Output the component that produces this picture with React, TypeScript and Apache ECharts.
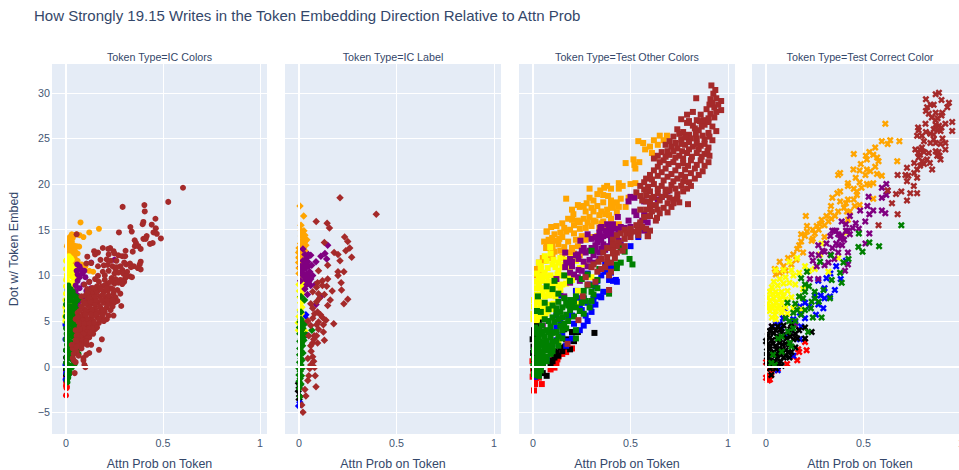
import React, { useEffect, useRef } from "react";
import * as echarts from "echarts";

type P = [number, number];

const chartTitle = "How Strongly 19.15 Writes in the Token Embedding Direction Relative to Attn Prob";
const panelNames = ["Token Type=IC Colors", "Token Type=IC Label", "Token Type=Test Other Colors", "Token Type=Test Correct Color"];
const xTicks = [0, 0.5, 1];
const yTicks = [-5, 0, 5, 10, 15, 20, 25, 30];

// --- IC Colors ---
const a_red: P[] = [[0,-3.15],[.003,-2.35],[.005,-2.2],[0,-2.1],[.002,-1.85],[0,-1.6],[.003,-1.4],[0,-1.1],[.001,-.8],[0,-.4],[.001,0]];
const a_black: P[] = [[.015,-.8],[.012,-1],[.008,-1.2],[0,-.9],[0,-.3],[0,.4],[0,1],[0,1.8]];
const a_blue: P[] = [[-.002,-1.4],[0,-.7],[-.003,.2],[-.003,3],[-.003,4.6],[.075,5.4]];
const a_orange: P[] = [[.075,15.8],[.17,15.1],[.12,14.7],[.055,14.5],[.07,14.4],[.09,14.2],[.03,14.5],[.02,14.2],[.035,14.1],[.015,13.8],[.03,13.7],[.01,13.5],[.025,13.4],[.04,13.3],[.055,13.2],[.068,13.15],[.015,13],[.03,12.9],[.045,12.8],[.02,12.6],[.035,12.4],[.05,12.5],[.015,12.2],[.03,12],[.045,11.9],[.06,11.6],[.04,11.3],[.08,11.2],[.1,11],[.09,10.8],[.14,10.4],[.12,10.5],[.055,10.9],[.07,10.3],[.05,10],[.04,14.4],[.005,13.2],[.06,12.4],[.04,12.2],[.025,11.5],[.05,11.6],[.075,11],[.06,10.7]];
const a_yellow: P[] = [[.015,12.1],[.025,11.9],[.005,11.7],[0,11.6],[.02,11.4],[.01,11.1],[.03,11],[.04,10.9],[0,10.7],[.015,10.6],[.03,10.4],[.045,10.3],[.005,10.1],[.02,10],[.035,9.8],[.05,9.6],[0,9.5],[.012,9.3],[.03,9.2],[.04,9],[0,8.8],[.015,8.6],[.028,8.5],[.045,8.3],[0,8],[.01,7.8],[.035,7.6],[-.003,7.3],[.01,7],[.04,7],[-.003,6.5],[0,6],[-.005,5.5],[-.003,5],[.03,11.7],[.005,9.8],[.045,8.8],[.01,6.4],[.005,5.9]];
const a_purple: P[] = [[.25,11.7],[.13,11.4],[.058,11.2],[.07,11],[.055,10.5],[.08,10.6],[.095,10.5],[.06,10.1],[.085,10.2],[.07,9.8],[.1,9.8],[.06,9.4],[.12,9.3],[.09,9],[.05,8.9],[.07,8.6],[.13,8.6],[.105,8.3],[.05,8.3],[.125,8],[.04,7.9],[.06,7.8],[.085,7.6],[.065,7.1],[.063,6.5],[.01,4.4],[.008,3.4]];
const a_green: P[] = [[.012,8.9],[.025,8.5],[.008,8.4],[.02,8.1],[.035,8.2],[.01,7.8],[.025,7.6],[.05,7.7],[.005,7.3],[.02,7.2],[.035,7.2],[.048,7],[.06,7.3],[.075,7.6],[0,6.8],[.015,6.6],[.03,6.6],[.05,6.4],[.06,6.2],[.005,6.1],[.02,5.9],[.04,5.9],[.058,5.7],[0,5.5],[.012,5.3],[.03,5.3],[.045,5.2],[.005,4.8],[.022,4.7],[.035,4.5],[0,4.2],[.012,4],[.028,4],[.042,3.8],[.003,3.6],[.02,3.4],[.035,3.3],[0,3],[.012,2.9],[.028,2.7],[.06,1.9],[.065,1.4],[.005,2.4],[.02,2.2],[.035,2],[.048,1.9],[0,1.8],[.012,1.5],[.028,1.4],[.003,1],[.018,.9],[.035,.7],[0,.4],[.012,.2],[.025,.1],[.003,-.2],[.015,-.4],[.03,-.1],[.005,-.8],[.012,-1.2],[.005,-1.5],[.008,-1.7],[.01,5.8],[.025,5.6],[.04,5.5],[.05,4.8],[.055,4.3],[.05,3.3],[.045,2.6],[.04,1.7],[.015,6.2],[.028,6.1],[.045,6.7],[.008,3.3],[.015,2.5],[.008,1.2],[.045,.3],[.02,-.7],[.03,8],[.04,7.8],[.01,4.4],[.025,5],[.035,3.7],[.03,2.4],[.02,1.8]];
const a_brown: P[] = [[.603,19.6],[.527,18.05],[.404,17.7],[.292,17.5],[.406,17],[.461,16.2],[.399,15.85],[.395,15.6],[.442,15.55],[.463,15.15],[.332,15.3],[.339,14.8],[.273,14.7],[.451,14.7],[.468,14.55],[.489,14.05],[.416,14.3],[.399,14],[.411,14],[.354,13.85],[.361,13.55],[.447,13.55],[.433,13.45],[.355,13.2],[.373,13.2],[.385,12.9],[.344,12.6],[.307,12.7],[.055,14.5],[.19,13],[.218,12.9],[.228,13],[.145,12.65],[.165,12.5],[.245,12.65],[.25,12.4],[.15,12.3],[.22,12.3],[.27,12.2],[.29,12.1],[.305,12.1],[.11,12.05],[.178,11.7],[.21,11.75],[.26,11.6],[.105,11.3],[.13,11.35],[.165,11],[.195,11.1],[.215,11.15],[.24,11],[.28,11],[.31,11.2],[.33,11.3],[.35,11],[.385,11.5],[.38,11.2],[.37,10.8],[.385,10.65],[.335,10.9],[.29,10.6],[.255,10.7],[.27,10.3],[.295,10.2],[.315,10.4],[.2,10],[.165,9.95],[.235,9.7],[.255,9.6],[.33,9.9],[.34,9.8],[.305,9.7],[.28,9.5],[.3,9.3],[.15,9.6],[.12,9.3],[.095,9],[.215,9.1],[.25,9.1],[.29,9.05],[.185,8.8],[.2,8.9],[.16,8.8],[.135,8.6],[.11,8.5],[.23,8.6],[.265,8.4],[.28,8],[.17,8.4],[.195,8.2],[.215,8.3],[.245,8],[.15,8],[.125,7.9],[.1,7.8],[.08,7.7],[.255,7.6],[.23,7.5],[.205,7.6],[.175,7.7],[.14,7.4],[.11,7.3],[.09,7.1],[.265,7.2],[.25,7.05],[.225,7],[.195,7],[.165,7],[.135,6.9],[.115,6.7],[.285,6.65],[.24,6.6],[.21,6.5],[.18,6.4],[.15,6.4],[.125,6.3],[.095,6.3],[.08,6.6],[.2,6],[.175,5.9],[.145,5.9],[.12,5.9],[.09,5.8],[.245,5.6],[.22,5.6],[.21,5.2],[.185,5.4],[.16,5.4],[.13,5.4],[.1,5.4],[.075,5.5],[.05,5.2],[.14,5],[.115,4.9],[.09,4.9],[.065,4.9],[.17,4.8],[.155,4.5],[.13,4.5],[.1,4.4],[.07,4.4],[.15,4.1],[.105,4],[.08,3.9],[.06,3.9],[.14,3.6],[.105,3.5],[.07,3.4],[.185,3],[.12,3.2],[.1,3.2],[.065,3],[.11,2.4],[.13,2.4],[.09,2.5],[.065,2.5],[.04,2.4],[.17,1.85],[.12,1.5],[.105,1.3],[.08,2],[.05,2],[.035,2],[.03,2.4],[.055,1.6],[.04,1.4],[.065,1.2],[.09,.95],[.035,.95],[.04,.7],[.05,.5],[.095,.2],[.09,.7],[.1,-.05],[.045,-.7],[.06,5.9],[.07,6.1],[.105,6.1],[.135,6.2],[.16,6],[.19,5.7],[.23,6.2],[.1,5.7],[.13,5.7],[.155,5.7],[.17,5.2],[.195,5],[.11,5.2],[.085,5.1],[.06,5.4],[.075,4.7],[.095,4.7],[.12,4.7],[.145,4.8],[.16,4.3],[.135,4.2],[.115,4.2],[.09,4.2],[.07,4.1],[.05,4],[.11,3.8],[.125,3.7],[.09,3.6],[.075,3.2],[.055,3.4],[.05,2.9],[.085,2.9],[.105,2.8],[.075,2.4],[.055,2.2],[.12,6.6],[.15,6.9],[.175,6.6],[.19,6.2],[.215,6.8],[.1,6.9],[.125,7.1],[.155,7.3],[.185,7.3],[.215,7.3],[.24,7.3],[.12,7.6],[.15,7.7],[.19,7.9],[.22,7.8],[.135,8.2],[.16,8.2],[.18,8.5],[.21,8.6],[.24,8.5],[.11,8.1],[.145,8.6],[.2,9.5],[.17,9.3],[.23,9.3],[.27,9.2],[.25,10.2],[.31,9.9],[.22,10.5],[.19,10.4],[.26,10.9],[.3,11.4],[.23,11.6]];

// --- IC Label ---
const b_black: P[] = [[-.003,-1.8],[0,-2.3],[-.004,-2.7],[.002,-3.2],[0,-3.6],[.005,-2]];
const b_blue: P[] = [[.035,5.7],[.03,5.4],[-.002,-4.3],[.004,-3.9],[.04,3.5]];
const b_orange: P[] = [[.005,17.6],[.024,16.5],[.01,15.5],[.012,14.9],[.025,14.9],[.015,14.6],[.012,14.3],[.025,14.1],[.015,13.8],[.03,13.7],[.035,13.3],[.008,13.5],[.02,13.3],[0,13],[.015,12.9],[-.002,12.5],[.012,12.4],[0,12],[.01,11.9],[-.002,11.4],[.01,11.3],[0,10.8],[.012,10.7],[0,10.2],[.01,10],[.03,14.4],[0,11.9],[.02,13],[.005,12.7],[.03,12.7],[.04,13.9]];
const b_yellow: P[] = [[.01,9.4],[.02,9.2],[0,9],[.012,8.8],[.025,8.5],[.002,8.3],[.015,8],[.005,7.6],[.02,7.2],[.008,7],[.015,6.5],[.005,6.2],[.012,5.8],[0,5.5],[.018,5.1],[-.004,4.8],[.015,4.5],[-.003,4],[.03,3.9],[.012,3.8]];
const b_purple: P[] = [[.02,12.9],[.147,13.3],[.133,12.4],[.112,12.1],[.142,11.8],[.087,11.5],[.048,12.3],[.03,12.3],[.04,11.9],[.02,11.6],[.045,11.5],[.03,11.2],[.05,11],[.035,10.8],[.02,10.6],[.055,10.4],[.04,10.2],[.02,10],[.03,9.8],[.05,9.9],[.06,9.6],[.035,9.5],[.05,9.3],[.083,9],[.06,8.9],[.112,7.7],[.087,6.8],[.043,7.9],[.01,11],[.015,10.3],[.065,11.1],[.07,10],[.04,9],[.03,8.5],[.06,12.2],[.008,9.4]];
const b_green: P[] = [[.01,7.7],[.028,7.3],[.01,6],[.01,5.2],[.005,4.9],[.012,4.6],[.066,4],[.035,3.5],[.002,4.3],[.012,4],[.004,3.6],[.012,3.1],[.004,2.8],[.012,2.5],[.004,2],[.012,1.7],[.003,1.3],[.01,.9],[.003,.5],[.01,.2],[0,-.2],[.006,-.5],[0,-.9],[.006,-1.3],[0,-1.6],[.005,-2],[.002,-2.4],[.006,-3.3],[.015,4.9],[.02,4.2],[.02,3.2],[.018,2.3],[.02,1.5],[.015,.7],[.015,-.2],[.012,-1],[.01,-1.9],[.015,3.7],[.03,4.7],[.025,2.9]];
const b_brown: P[] = [[.21,18.5],[.396,16.7],[.088,15.9],[.144,15.7],[.156,15.2],[.234,14.2],[.25,13.7],[.26,13],[.24,12.7],[.13,13.6],[.18,12.5],[.2,12.3],[.21,11.6],[.27,12],[.147,11.1],[.23,10.4],[.2,10.4],[.2,10],[.1,10.5],[.147,9.6],[.12,9.4],[.095,9.2],[.216,9.2],[.142,8.8],[.218,8.4],[.07,8.2],[.25,7.4],[.23,6.9],[.16,7.3],[.147,6.7],[.13,7.9],[.105,7.5],[.06,6.9],[.07,6.4],[.095,6],[.11,5.7],[.138,5.1],[.178,4.7],[.07,5.3],[.045,5],[.09,4.6],[.125,4.6],[.06,4.5],[.125,3.8],[.13,2.9],[.095,2.6],[.07,2.6],[.078,3.4],[.05,3.4],[.062,1.7],[.07,1.1],[.045,.9],[.055,-.2],[.083,-1],[.087,-2.2],[.045,-1.5],[.035,-3.2],[.014,-4.2],[.02,-5],[.03,-2.5],[.06,.2],[.09,7.1],[.12,5.4],[.1,4.1],[.08,5.8],[.1,4.9],[.075,3],[.09,3.4],[.06,2.3],[.075,.6],[.08,-.1],[.05,-1],[.1,8],[.09,8.7],[.17,8.3],[.12,8.9]];

// --- Test Other Colors ---
const c_red: P[] = [[.005,-2.6],[.045,-1.9],[.01,-1.5],[-.002,-1.1],[.02,-.9],[.002,-.5],[.125,.8],[.12,.4],[.11,-.1],[.2,2],[.09,-.3],[.13,1.1],[.005,0],[-.003,.6],[.15,1.4],[.17,1.6],[.015,-1.2],[0,-.2],[.03,-1.2],[.1,.2],[.105,.7],[.01,-1.9]];
const c_black: P[] = [[.315,3.7],[.23,3.8],[.19,1.9],[.14,2.1],[.17,3],[.07,-1],[.01,4.6],[.2,3.8],[.21,2.8],[.165,2.2],[.13,1.2],[.11,1.7],[.1,.6],[.005,4],[.015,3.5],[-.002,3],[.002,2.2],[0,1.5],[.02,-.3],[.05,.2],[.09,.2],[.05,-.7],[.16,4.1],[.005,3.6],[.01,2.7],[.005,.8],[.01,.2],[.015,-.6],[.005,-.4],[.08,.7],[.11,1],[.12,1.5],[.15,1.7],[.03,4.3],[.03,4.9]];
const c_blue: P[] = [[.425,9.5],[.39,9.5],[.37,11.2],[.38,10.7],[.335,7.7],[.31,7.4],[.25,6.2],[.27,5.6],[.18,5.5],[.14,5],[.2,6.7],[.33,9.4],[.29,9],[.36,8.2],[.295,6.5],[.15,3.5],[.12,4.3],[.21,4.7],[.24,4],[.01,-1.1],[.03,-.9],[.07,.9],[.1,2.5],[.28,10.2],[.35,10],[.54,14.2],[.5,13.2],[.24,7.5],[.17,2.3],[.02,-.5],[.18,7],[.2,5.6],[.24,6.8],[.12,5.6],[.09,3.8],[.26,7.4],[.28,7],[.12,2.9],[.22,8.3],[.32,8.8],[.14,7.8],[.43,9.3],[.41,9.4],[.4,10.3],[.37,10.4],[.35,7.6],[.32,6.8],[.3,6],[.28,5],[.26,4.5],[.2,3.1],[.18,2.8],[.4,11]];
const c_orange: P[] = [[.65,25.3],[.687,25.3],[.67,24.8],[.62,24.8],[.54,24.7],[.565,24.5],[.575,23.8],[.64,24.3],[.61,23.4],[.625,23],[.6,24.1],[.475,22.3],[.515,22.7],[.545,22.4],[.52,22.1],[.525,21.7],[.44,20.1],[.44,19.5],[.5,20],[.525,20.1],[.38,19.8],[.29,19.5],[.345,19.3],[.365,19.6],[.385,18.7],[.17,18.4],[.29,18.5],[.31,18.2],[.275,17.9],[.49,18.5],[.45,18.4],[.475,17.5],[.24,17.5],[.27,17],[.207,16.7],[.18,16.2],[.15,15.7],[.12,15.4],[.093,15.3],[.07,14.8],[.057,13.7],[.067,13],[.098,14.1],[.135,14],[.098,13.5],[.19,15],[.21,15.5],[.24,15.8],[.38,15.5],[.35,17],[.38,17.2],[.41,17.4],[.33,17.6],[.36,18],[.4,18.2],[.31,17],[.26,16.2],[.29,16.4],[.32,15.9],[.35,15.7],[.4,16.2],[.43,16.9],[.44,15.6],[.415,15.4],[.39,14.9],[.34,15.2],[.3,15.4],[.27,15.2],[.24,15.1],[.21,14.6],[.17,14.8],[.15,14.2],[.18,13.7],[.22,13.9],[.25,14.3],[.3,14.2],[.2,13],[.16,13.1],[.13,13.4],[.11,12.6],[.09,11.9],[.02,10],[.015,10.7],[.03,11.4],[.06,11.6],[.1,12.2],[.15,12],[.21,12.4],[.24,12.2],[.07,14.8],[.08,13.9],[.46,19.8],[.4,19.5],[.36,18.8],[.33,18.9],[.23,17.7],[.2,17.2],[.26,17.6],[.3,17.4],[.43,18],[.44,17.5],[.4,17.7],[.34,16.6],[.37,16.7],[.39,16.6],[.31,16],[.28,15.8],[.23,16],[.2,16.1],[.16,15.2],[.14,14.7],[.11,14.5],[.12,13.8],[.07,13.5],[.1,12.9],[.14,12.7],[.18,12.5],[.23,13.2],[.27,13.9],[.33,14.3],[.03,10.5],[.05,11.9],[.36,15.9]];
const c_yellow: P[] = [[.088,13.1],[.09,12.4],[.03,11.4],[.07,11.6],[.105,11.7],[.14,11.9],[.17,11.7],[.2,11.9],[.27,11.2],[.22,11.6],[.24,10.8],[.19,10.5],[.15,10.9],[.115,10.9],[.075,10.8],[.04,10.7],[.02,10.2],[.05,10],[.09,10],[.125,10.1],[.17,9.9],[.02,9.3],[.05,9.4],[.08,9.3],[.115,9.3],[.15,9],[.015,8.6],[.04,8.6],[.07,8.5],[.105,8.6],[.2,9.5],[.23,8.3],[.01,7.9],[.035,7.9],[.06,7.7],[.085,7.8],[.115,7.7],[.005,7.3],[.03,7.1],[.055,7],[.08,6.8],[.105,6.9],[.005,6.6],[.03,6.3],[.055,6.2],[.075,6.1],[.1,6.3],[.002,5.8],[.02,5.5],[.05,5.5],[.002,5.2],[.02,5.1],[.13,2.7],[.13,10.5],[.3,9.8],[.22,6.9],[.06,12.1],[.04,11],[.1,11.2],[.13,11.4],[.16,11.2],[.19,11.2],[.06,10.3],[.03,9.8],[.07,9.9],[.11,9.7],[.15,10],[.185,9.7],[.07,9.1],[.03,9],[.1,9],[.13,8.9],[.05,8.1],[.02,7.6],[.08,8.2],[.1,8],[.04,6.7],[.015,7],[.065,6.7],[.01,6],[.04,5.8],[.065,5.8],[.17,9.1],[.14,8.4]];
const c_purple: P[] = [[.5,18.6],[.57,18.1],[.64,18.3],[.49,18.1],[.52,18.5],[.37,14.9],[.34,14.7],[.4,14.7],[.36,14.3],[.39,15.3],[.43,14.4],[.41,15.6],[.345,15.2],[.435,16.4],[.28,14.5],[.243,13.8],[.165,12.5],[.33,13.6],[.36,13.4],[.39,13.2],[.3,13],[.27,12.5],[.34,12.5],[.31,12.2],[.47,15.2],[.5,15.3],[.49,16],[.53,16.6],[.57,16.7],[.588,15.8],[.57,14.9],[.55,15.6],[.45,15.3],[.25,12.7],[.233,11.8],[.2,11.5],[.165,10.9],[.233,10.6],[.28,11],[.31,11.4],[.34,11.8],[.21,10.1],[.19,9.2],[.24,9.4],[.12,9.6],[.16,7.7],[.05,4.5],[.2,11],[.22,12.2],[.27,10],[.4,13.7],[.44,13.8],[.26,11.5],[.66,18.6],[.69,19.2],[.56,16],[.52,17],[.45,13.4],[.35,15.3],[.38,15.6],[.42,15.1],[.32,14.2],[.35,13.9],[.38,14.4],[.3,14],[.32,13.3],[.35,12.9],[.29,12.7],[.26,13],[.23,12.3],[.19,11.8],[.29,11.7],[.32,12.7],[.37,12.8],[.4,14.2],[.44,15],[.34,14.2],[.19,10.3],[.23,9.8],[.25,10.5],[.17,11.4]];
const c_green: P[] = [[.51,11.2],[.495,11.8],[.45,13],[.47,12.6],[.45,11.4],[.43,11.2],[.43,10.8],[.54,15.1],[.3,12.7],[.39,8],[.26,5.8],[.29,6.5],[.22,4],[.22,3.1],[.11,9.4],[.025,7.7],[.02,6.1],[.3,8.9],[.33,9.5],[.34,10.7],[.28,10.1],[.25,9.6],[.19,9.4],[.16,10],[.07,8.8],[.1,8.5],[.13,8],[.16,7.5],[.19,7.3],[.22,7.7],[.26,8.3],[.31,7.9],[.33,8.6],[.3,7.2],[.25,7],[.22,6.5],[.19,6.2],[.15,6.5],[.1,6.7],[.08,6.3],[.04,6],[.06,7],[.12,5.8],[.15,5.4],[.18,5],[.21,5.5],[.11,4.9],[.14,4.5],[.17,4.2],[.08,5],[.09,4.4],[.12,3.8],[.15,3.1],[.07,4],[.045,4.5],[.06,3.3],[.09,3.2],[.12,2.8],[.03,3.2],[.05,2.7],[.08,2.3],[.1,2.1],[.01,2.8],[.03,2.1],[.06,1.8],[.09,1.4],[.005,1.8],[.025,1.2],[.05,1],[.07,1.1],[.005,.9],[.025,.4],[.05,.3],[.002,.1],[.02,-.3],[.04,-.4],[.005,-.8],[.03,-1],[.01,4.3],[.03,4.1],[.05,3.8],[.08,3.8],[.1,3.7],[.13,3.3],[.15,4],[.16,4.7],[.13,5.2],[.1,5.4],[.06,5.2],[.04,3.6],[.02,3.7],[.07,2.8],[.1,2.7],[.13,2.3],[.02,2.5],[.04,2.4],[.06,2.3],[.08,1.8],[.1,1.7],[.01,2.2],[.015,1.6],[.035,1.6],[.05,1.5],[.07,.6],[.035,.8],[.015,.6],[.04,0],[.06,.7],[.01,-.4],[.03,-.6],[.015,-.9],[.02,3],[.12,6.4],[.14,6],[.17,5.7],[.2,6.8],[.24,6.1],[.27,7.2],[.21,7.1],[.18,6.7],[.17,6.9],[.13,7.1],[.26,7.6],[.28,8.9],[.3,8.2]];
const c_brown: P[] = [[.915,30.8],[.935,30.3],[.925,29.9],[.94,29.4],[.965,29.1],[.837,29.4],[.905,28.7],[.93,28.4],[.965,28.1],[.94,27.9],[.93,27.3],[.79,27.6],[.82,27.9],[.86,27.6],[.9,27.2],[.84,27],[.76,27.1],[.79,26.7],[.88,26.5],[.92,26.3],[.82,26.4],[.74,26],[.77,25.7],[.85,25.9],[.9,25.6],[.94,25.8],[.8,25.4],[.72,25.2],[.76,24.9],[.84,25],[.88,24.9],[.92,24.8],[.68,24.3],[.71,24.1],[.74,23.9],[.78,24.3],[.82,24.1],[.86,24.2],[.9,24],[.66,23.5],[.7,23.2],[.75,23.1],[.79,23.4],[.84,23.4],[.88,23.3],[.62,22.8],[.67,22.6],[.72,22.4],[.77,22.3],[.81,22.6],[.86,22.6],[.9,22.4],[.64,21.9],[.68,21.7],[.73,21.5],[.78,21.6],[.83,21.7],[.87,21.4],[.6,21],[.64,20.9],[.69,20.8],[.74,20.6],[.78,20.8],[.83,20.6],[.57,20.2],[.62,20],[.66,19.8],[.71,19.9],[.76,19.8],[.81,19.8],[.57,19.4],[.6,19.2],[.64,19],[.7,19.3],[.74,18.9],[.77,19.2],[.55,18.7],[.62,18.6],[.65,18.2],[.72,18.3],[.68,18.8],[.795,17.8],[.75,18],[.71,17.5],[.67,17.4],[.64,17.2],[.6,17.6],[.58,18.1],[.636,16.3],[.6,16.5],[.54,14.4],[.588,14.3],[.6,14.9],[.45,14.6],[.43,14.4],[.41,13.9],[.41,12.9],[.336,11.5],[.4,11.4],[.39,8.4],[.233,5.1],[.255,7.7],[.177,2.5],[.28,9],[.32,9.3],[.39,10],[.4,10.4],[.38,12],[.35,11.8],[.3,10.9],[.54,15.2],[.59,14.3],[.69,16.9],[.63,16],[.55,15.8],[.5,15.1],[.52,14.8],[.47,15],[.5,14.2],[.47,14],[.44,13.6],[.46,12.7],[.43,12.5],[.38,13],[.36,12.5],[.42,11.9],[.35,10.7],[.31,11.2],[.27,9.8],[.91,29.3],[.95,28.7],[.92,28.9],[.89,28.2],[.91,27.7],[.875,27],[.855,26.9],[.8,26.9],[.83,26.1],[.865,26.3],[.9,26.8],[.905,25.2],[.87,25.3],[.835,25.5],[.81,25],[.78,25.1],[.75,25.5],[.7,24.7],[.73,24.5],[.76,24.4],[.8,24.6],[.84,24.4],[.88,24.4],[.69,23.6],[.72,23.6],[.765,23.6],[.8,23.8],[.85,23.8],[.895,23.6],[.64,23.1],[.68,23],[.73,22.9],[.77,22.8],[.815,23],[.865,23],[.905,23.1],[.65,22.4],[.695,22.2],[.745,22],[.795,22],[.84,22.1],[.88,22],[.62,21.5],[.66,21.3],[.71,21.1],[.76,21],[.81,21.2],[.85,21],[.58,20.6],[.61,20.5],[.67,20.4],[.72,20.3],[.77,20.3],[.8,20.2],[.55,19.8],[.59,19.7],[.64,19.5],[.68,19.4],[.73,19.5],[.79,19.5],[.53,19.1],[.58,18.8],[.61,18.5],[.66,18.6],[.7,18.5],[.74,18.4],[.56,18.2],[.6,18],[.63,17.7],[.69,17.9],[.72,17.9],[.58,17.2],[.61,17],[.65,16.8],[.55,17.2],[.57,16.4],[.53,15.5],[.56,15.3],[.58,15.1],[.48,14.6],[.5,14.7],[.43,13.2],[.41,12.4],[.38,11.4],[.37,10.9],[.33,10.4],[.41,13.4],[.47,13.2],[.54,14.9]];

// --- Test Correct Color ---
const d_red: P[] = [[.01,-1.5],[0,-1.2],[.02,-1.4],[.027,-.7],[.045,-.4],[.108,.3],[.16,.7],[.208,1.8],[.17,1.6],[.165,1.9],[.2,2.7],[.14,1.1],[0,.5],[.02,-.1],[.06,-.2],[.015,-1]];
const d_blue: P[] = [[.36,11],[.383,9.6],[.268,9.4],[.3,8.6],[.353,8.4],[.3,7.5],[.328,7.7],[.294,6.4],[.256,5.7],[.174,6.6],[.174,5.9],[.268,6.8],[.096,6.4],[.087,5.3],[.174,3],[.06,-.4],[.14,1.2],[.41,11.6],[.31,9.7],[.2,7],[.14,5.2],[.2,5.3],[.07,4.7],[.33,10.2],[.1,3.4],[.15,4.8],[.18,4.4],[.08,4.2],[.05,4.7],[.13,4],[.25,7.8],[.28,7.8],[.22,6.6]];
const d_orange: P[] = [[.612,26.6],[.684,24.7],[.637,24.8],[.624,24.4],[.594,24.7],[.56,24],[.53,23.5],[.55,23.2],[.512,23.1],[.517,22.7],[.577,22.5],[.57,22.9],[.673,22.5],[.45,23.3],[.486,22.2],[.37,21],[.38,21.2],[.448,21.6],[.48,21.5],[.517,21.6],[.56,21.9],[.535,21.4],[.569,21.1],[.594,20.9],[.51,21],[.46,20.7],[.48,20.2],[.517,20],[.55,20.1],[.42,20.1],[.42,19.8],[.466,19.2],[.38,19.2],[.366,19],[.466,18.8],[.45,18.3],[.42,18.3],[.38,18.1],[.41,17.9],[.55,18.4],[.48,17.7],[.455,17.6],[.333,17.6],[.37,17],[.415,17],[.354,16.5],[.204,16.5],[.31,16.5],[.285,16.1],[.335,16.2],[.42,16.1],[.276,15.6],[.32,15.9],[.21,15.4],[.27,15],[.25,14.6],[.21,14.8],[.3,14.2],[.234,13.8],[.18,13.7],[.17,13.3],[.19,12.5],[.113,11.9],[.07,11.5],[.045,10.7],[.1,10.5],[.07,10.3],[.24,14],[.16,12.9],[.155,11.7],[.13,11.2],[.26,15.4],[.34,18.5],[.33,16.9],[.3,15.5],[.24,15],[.2,14.3],[.18,14.5],[.14,12.3],[.09,11],[.05,10.1],[.43,17],[.4,17.4],[.49,19.6],[.45,19.5],[.53,19.9]];
const d_yellow: P[] = [[.414,14.7],[.37,11.9],[.277,12.3],[.285,13.5],[.16,11.9],[.12,11.5],[.09,10.6],[.05,10.6],[.13,10.6],[.2,11],[.22,10.5],[.25,10.7],[.32,10.4],[.14,10],[.17,10.3],[.1,9.8],[.07,9.6],[.04,9.3],[.03,8.7],[.06,8.9],[.09,9.1],[.12,9.2],[.15,9],[.19,8.5],[.02,8.2],[.05,8.2],[.08,8.2],[.11,8.3],[.01,7.6],[.04,7.5],[.07,7.4],[.1,7.4],[.13,7.6],[.01,6.9],[.04,6.7],[.07,6.7],[.1,6.5],[.17,7.7],[.02,6.1],[.05,6.1],[.08,5.9],[.03,5.4],[.05,5.2],[.18,6.3],[.14,6.4],[.11,5.8],[.02,7.2],[.05,7],[.08,7],[.06,6.4],[.03,6.4],[.08,6.3],[.045,5.7],[.015,6.5],[.06,7.9],[.035,8],[.09,7.7]];
const d_purple: P[] = [[.617,20],[.594,19.6],[.624,19.3],[.594,18.5],[.617,18.8],[.526,18.6],[.52,17.6],[.483,17.1],[.55,17.1],[.53,16.7],[.594,17.1],[.612,16.8],[.509,15.9],[.43,16.5],[.388,15.9],[.41,15.6],[.445,15.2],[.476,15.1],[.41,14.9],[.35,14.9],[.34,14.9],[.37,14.5],[.53,14.6],[.51,13.5],[.43,14.5],[.38,14],[.4,13.9],[.31,13.5],[.268,13.3],[.37,13.3],[.33,12.3],[.37,12.5],[.42,12.5],[.234,12.3],[.32,11.4],[.405,10.5],[.268,9.6],[.225,9.6],[.26,11],[.29,12.7],[.34,13],[.15,4.5],[.1,5.3],[.03,4.4],[.42,11.2],[.39,13.3],[.33,14.3],[.36,14.9],[.39,14.4],[.42,14.9],[.3,12.6],[.27,12.2],[.35,11.8],[.3,11.1],[.24,11.6],[.36,13.5],[.46,15.7]];
const d_black: P[] = [[.234,3.8],[.17,4],[.2,4.3],[.03,4.4],[.06,4.4],[.09,4.5],[.13,4.7],[.15,3.6],[.12,3.8],[.08,3.8],[.04,3.7],[.01,3.4],[.14,3],[.105,3.1],[.07,3.1],[.03,2.9],[0,2.8],[.12,2.4],[.085,2.4],[.05,2.3],[.015,2.2],[.005,1.7],[.04,1.6],[.07,1.8],[.1,1.8],[.13,1.6],[.09,1],[.055,.9],[.02,1],[.005,1.1],[.12,1],[.03,.3],[.065,.3],[.01,.4],[.027,-.9],[.2,3.1],[.15,2.1],[.08,.1],[.05,-.2],[.02,3.9],[.05,4],[.075,4.1],[.125,4.1],[.02,3.2],[.055,3.3],[.09,3.5],[.125,3.3],[.01,2.5],[.035,2.5],[.07,2.6],[.1,2.5],[.02,1.9],[.055,1.9],[.085,1.9],[.115,1.6],[.015,1.4],[.03,1.3],[.06,1.3],[.075,1.3],[.1,1.2],[.02,.7],[.045,.6],[.075,.6],[.005,.2],[.045,.1],[.02,-.2],[.16,3.1]];
const d_green: P[] = [[.694,15.5],[.476,14.6],[.53,13.6],[.474,13.1],[.495,12.6],[.58,13.2],[.423,11.8],[.397,11.4],[.333,12.2],[.277,11.5],[.38,10.3],[.388,9.2],[.337,9.5],[.21,10.4],[.18,9.7],[.25,8.2],[.328,7.5],[.295,8.4],[.285,5.4],[.234,7.1],[.17,7.7],[.15,6.9],[.2,6.2],[.24,5.4],[.14,5.9],[.1,5.3],[.216,3.8],[.14,4.2],[.113,3.85],[.08,3.3],[.062,3.1],[.122,2.6],[.13,2.2],[.08,1.65],[.036,1.3],[.045,.2],[.027,.4],[.25,7.5],[.2,8.2],[.16,6.2],[.19,7.5],[.23,6.4],[.12,5],[.15,5],[.11,7],[.27,7.1],[.2,9],[.18,5.7],[.22,8.8]];
const d_brown: P[] = [[.87,29.85],[.887,30],[.82,29.3],[.9,29.2],[.938,28.9],[.93,28.4],[.86,28.7],[.845,28.7],[.826,28.4],[.835,27.7],[.87,27.8],[.904,27.8],[.85,27.3],[.82,28],[.818,26.6],[.955,26.8],[.92,26.6],[.887,26.4],[.87,26.5],[.895,25.8],[.88,25.9],[.955,25.8],[.783,25.9],[.775,25.3],[.8,25.3],[.843,25.5],[.86,26],[.92,24.5],[.895,24.4],[.843,24.5],[.92,23.8],[.766,23.8],[.79,23.8],[.835,23.4],[.87,23.6],[.878,23.1],[.895,22.7],[.783,22.9],[.826,22.7],[.81,22.2],[.852,21.6],[.723,21.8],[.775,21.6],[.715,21],[.675,21],[.775,20.7],[.723,20.3],[.758,19.8],[.74,19],[.775,19],[.694,19.2],[.667,18.9],[.723,18.2],[.646,17.9],[.675,16.7],[.577,15.5],[.624,19.3],[.79,23.2],[.81,23.5],[.8,22.5],[.79,22],[.76,21.2],[.885,23.5],[.87,24.5],[.88,27.2],[.9,26.2],[.82,25.7],[.86,24.9],[.9,27.5],[.87,27],[.86,25.4],[.81,24.7],[.8,24],[.78,23.4],[.84,22.3],[.76,22.3],[.73,20.9],[.89,23.1],[.905,25],[.78,26.2]];

const panelSymbols = ["circle", "diamond", "rect", "path://M2 0L4 2L6 0L8 2L6 4L8 6L6 8L4 6L2 8L0 6L2 4L0 2Z"];
const panelSizes = [6, 7.5, 6, 7];
const palette: Record<string, string> = { red: "#ff0000", black: "#000000", blue: "#0000ff", orange: "#ffa500", yellow: "#ffff00", purple: "#800080", green: "#008000", brown: "#a52a2a" };
const panelData: [string, P[]][][] = [
  [["red", a_red], ["black", a_black], ["blue", a_blue], ["orange", a_orange], ["yellow", a_yellow], ["purple", a_purple], ["green", a_green], ["brown", a_brown]],
  [["black", b_black], ["blue", b_blue], ["orange", b_orange], ["yellow", b_yellow], ["purple", b_purple], ["green", b_green], ["brown", b_brown]],
  [["red", c_red], ["black", c_black], ["blue", c_blue], ["orange", c_orange], ["yellow", c_yellow], ["purple", c_purple], ["green", c_green], ["brown", c_brown]],
  [["red", d_red], ["blue", d_blue], ["orange", d_orange], ["yellow", d_yellow], ["purple", d_purple], ["black", d_black], ["green", d_green], ["brown", d_brown]],
];

const gridLefts = [52, 285, 519, 752];
const gridWidths = [215, 216, 216, 216];
const FONT = "'Liberation Sans', Arial, sans-serif";
const INK = "#34476a";
const TICK = "#445673";

export default function App() {
  const ref = useRef<HTMLDivElement>(null);
  useEffect(() => {
    document.body.style.margin = "0";
    document.body.style.overflow = "hidden";
    const chart = echarts.init(ref.current!, null, { renderer: "svg" });
    const grids = gridLefts.map((left, i) => ({ left, top: 64, width: gridWidths[i], height: 370, backgroundColor: "#E5ECF6", show: true, borderWidth: 0, outerBoundsMode: "none" }));
    const xAxes = gridLefts.map((_, i) => ({
      type: "value", gridIndex: i, min: -0.072, max: 1.036,
      name: "Attn Prob on Token", nameLocation: "middle", nameGap: 24,
      nameTextStyle: { color: INK, fontSize: 12.45, fontFamily: FONT },
      axisLine: { show: false }, axisTick: { show: false, customValues: xTicks },
      axisLabel: { customValues: xTicks, color: TICK, fontSize: 10.7, fontFamily: FONT, margin: 3, hideOverlap: false, formatter: (v: number) => String(v) },
      splitLine: { show: true, lineStyle: { color: "#ffffff", width: 1 } },
    }));
    const yAxes = gridLefts.map((_, i) => ({
      type: "value", gridIndex: i, min: -7.37, max: 33.15,
      name: i === 0 ? "Dot w/ Token Embed" : "", nameLocation: "middle", nameGap: 32,
      nameTextStyle: { color: INK, fontSize: 12.45, fontFamily: FONT },
      axisLine: { show: false }, axisTick: { show: false, customValues: yTicks },
      axisLabel: { show: i === 0, customValues: yTicks, color: TICK, fontSize: 10.7, fontFamily: FONT, margin: 2, formatter: (v: number) => (v < 0 ? "\u2212" + Math.abs(v) : String(v)) },
      splitLine: { show: true, lineStyle: { color: "#ffffff", width: 1 } },
    }));
    const series: any[] = [];
    panelData.forEach((traces, i) => {
      series.push({
        type: "scatter", xAxisIndex: i, yAxisIndex: i, data: [], z: 1, silent: true,
        markLine: { silent: true, symbol: "none", animation: false, label: { show: false }, lineStyle: { color: "#ffffff", width: 2, type: "solid" }, data: [{ xAxis: 0 }, { yAxis: 0 }] },
      });
      traces.forEach(([color, pts]) => {
        series.push({
          type: "scatter", name: color + " " + panelNames[i], xAxisIndex: i, yAxisIndex: i, z: 2,
          symbol: panelSymbols[i], symbolSize: panelSizes[i], data: pts,
          itemStyle: { color: palette[color], opacity: 1 }, emphasis: { disabled: true },
        });
      });
    });
    chart.setOption({
      animation: false,
      backgroundColor: "#ffffff",
      title: [
        { text: chartTitle, left: 34, top: 8, padding: 0, textStyle: { color: INK, fontSize: 15, fontWeight: "normal", fontFamily: FONT } },
        ...panelNames.map((text, i) => ({
          text, left: gridLefts[i] + gridWidths[i] / 2, top: 51, padding: 0, textAlign: "center",
          textStyle: { color: INK, fontSize: 10.7, fontWeight: "normal", fontFamily: FONT },
        })),
      ],
      grid: grids, xAxis: xAxes, yAxis: yAxes, series,
    });
    return () => chart.dispose();
  }, []);
  return (
    <div style={{ position: "fixed", left: 0, top: 0, width: 959, height: 470, overflow: "hidden" }}>
      <div ref={ref} style={{ width: 980, height: 470 }} />
    </div>
  );
}
